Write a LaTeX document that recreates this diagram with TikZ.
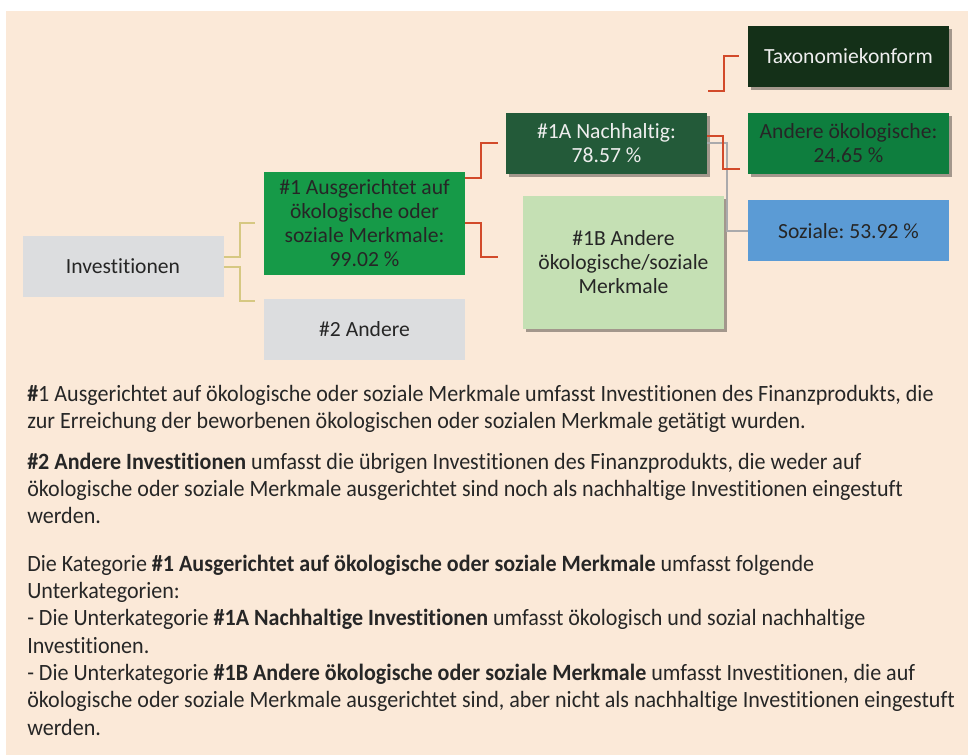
\documentclass[tikz,border=0pt]{standalone}
\usepackage{fontspec}
\setmainfont{Carlito}[Ligatures=NoCommon]
\newfontfamily\bodyfont{Carlito}[FakeStretch=0.945,Ligatures=NoCommon]
\usetikzlibrary{shadows}
\frenchspacing

\definecolor{panel}{RGB}{251,233,216}
\definecolor{boxgray}{RGB}{220,221,223}
\definecolor{gmid}{RGB}{22,154,72}
\definecolor{gdark}{RGB}{35,90,57}
\definecolor{gdeep}{RGB}{20,48,24}
\definecolor{gforest}{RGB}{14,126,62}
\definecolor{bsoft}{RGB}{91,155,213}
\definecolor{glight}{RGB}{197,224,180}
\definecolor{lyellow}{RGB}{214,200,130}
\definecolor{lred}{RGB}{210,74,42}
\definecolor{lgray}{RGB}{170,170,172}
\definecolor{textdark}{RGB}{38,38,38}
\definecolor{textlight}{RGB}{238,238,238}

\begin{document}
\frenchspacing
\begin{tikzpicture}[x=0.75pt,y=-0.75pt,
  box/.style={rectangle, inner sep=2pt, align=center,
    font=\fontsize{16.2}{18}\selectfont\frenchspacing, text=textdark,
    minimum width=150.75pt, minimum height=45.75pt},
  shadowed/.style={drop shadow={shadow xshift=2.5pt, shadow yshift=-2.5pt,
    opacity=0.35, fill=black}},
  yline/.style={draw=lyellow, line width=1.5pt},
  rline/.style={draw=lred, line width=1.5pt},
  gline/.style={draw=lgray, line width=1.5pt},
  % anchored at the baseline of the last line of each paragraph
  body/.style={anchor=base west, align=left, inner sep=0pt, text=textdark,
    font=\bodyfont\fontsize{17.5}{20.5}\selectfont\frenchspacing}
]
% page and panel
\useasboundingbox (0,0) rectangle (968,755);
\fill[white] (0,0) rectangle (968,755);
\fill[panel] (6,11) rectangle (968,755);

% boxes
\node[box, fill=boxgray] (inv) at (123,266.5) {Investitionen};
\node[box, fill=gmid, minimum height=77.25pt] (n1) at (364.5,223.5)
  {\#1 Ausgerichtet auf\\ökologische oder\\soziale Merkmale:\\99.02 \%};
\node[box, fill=boxgray] (n2) at (364.5,329.5) {\#2 Andere};
\node[box, fill=gdark, text=textlight, shadowed] (n1a) at (606.5,143.5)
  {\#1A Nachhaltig:\\78.57 \%};
\node[box, fill=glight, minimum height=99.75pt, shadowed] (n1b) at (623.5,262.5)
  {\#1B Andere\\ökologische/soziale\\Merkmale};
\node[box, fill=gdeep, text=textlight, shadowed] (tax) at (848.5,56.5) {Taxonomiekonform};
\node[box, fill=gforest, shadowed] (aoe) at (848.5,143.5) {Andere ökologische:\\24.65 \%};
\node[box, fill=bsoft] (soz) at (848.5,231) {Soziale: 53.92 \%};

% connectors
\draw[yline] ([yshift=7.1pt]inv.east) -- ++(16,0) |- ([xshift=-6.75pt]n1.west);
\draw[yline] ([yshift=-0.4pt]inv.east) -- ++(16,0) |- ([xshift=-6.75pt,yshift=-1.5pt]n2.north west);
\draw[rline] ([yshift=-4.5pt]n1.north east) -- ++(16,0) |- ([xshift=-6pt]n1a.west);
\draw[rline] (n1.east) -- ++(16,0) |- ([xshift=-18.75pt,yshift=4.1pt]n1b.west);
\draw[gline] (n1a.east) -- ++(20,0) |- (soz.west);
\coordinate (taxfrom) at ([xshift=0.75pt,yshift=16.5pt]n1a.north east);
\draw[rline] (taxfrom) -- ++(16,0) |- ([xshift=-6.75pt]tax.west);
\draw[rline] ([yshift=5.6pt]n1a.east) -- ++(16,0) |- ([xshift=-6pt,yshift=4.1pt]aoe.south west);

% explanatory text
\node[body] (p1) at (27,429)
  {\textbf{\#}1 Ausgerichtet auf ökologische oder soziale Merkmale umfasst Investitionen des Finanzprodukts, die\\
   zur Erreichung der beworbenen ökologischen oder sozialen Merkmale getätigt wurden.};
\node[body] (p2) at (27,524)
  {\textbf{\#2 Andere Investitionen} umfasst die übrigen Investitionen des Finanzprodukts, die weder auf\\
   ökologische oder soziale Merkmale ausgerichtet sind noch als nachhaltige Investitionen eingestuft\\
   werden.};
\node[body] (p3) at (27,735)
  {Die Kategorie \textbf{\#1 Ausgerichtet auf ökologische oder soziale Merkmale} umfasst folgende\\
   Unterkategorien:\\
   - Die Unterkategorie \textbf{\#1A Nachhaltige Investitionen} umfasst ökologisch und sozial nachhaltige\\
   Investitionen.\\
   - Die Unterkategorie \textbf{\#1B Andere ökologische oder soziale Merkmale} umfasst Investitionen, die auf\\
   ökologische oder soziale Merkmale ausgerichtet sind, aber nicht als nachhaltige Investitionen eingestuft\\
   werden.};
\end{tikzpicture}
\end{document}
